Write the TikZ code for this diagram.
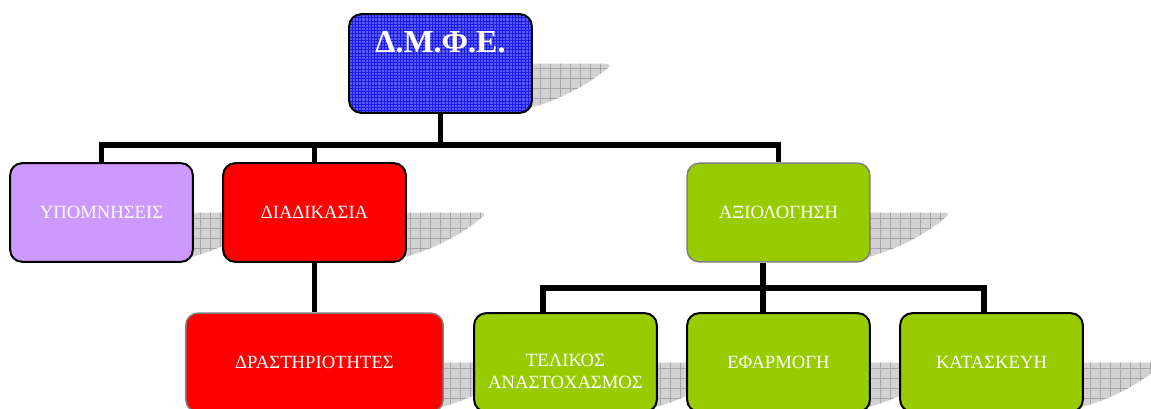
\documentclass[tikz,border=0pt]{standalone}
\usepackage{fontspec}
\setmainfont{Liberation Serif}
\usetikzlibrary{backgrounds,patterns.meta}
\definecolor{mov}{RGB}{204,153,255}
\definecolor{kokkino}{RGB}{255,0,0}
\definecolor{prasino}{RGB}{153,204,0}
\definecolor{mple}{RGB}{90,90,255}
\definecolor{mplef}{RGB}{25,25,225}
\definecolor{gkri}{RGB}{128,128,128}
\tikzset{
  kouti/.style={draw=black, line width=1.5pt, rounded corners=9pt, align=center, inner sep=0pt,
    minimum width=137pt, minimum height=74pt, text=white, font=\fontsize{14pt}{17pt}\selectfont},
  kgri/.style={kouti, draw=gkri, line width=1.1pt},
  korifi/.style={kouti, preaction={fill=mple}, pattern={Hatch[distance=2.4pt, angle=0, line width=0.35pt]},
    pattern color=mplef, font=\fontsize{24pt}{28pt}\selectfont\bfseries, text height=29pt, text depth=45pt},
  syn/.style={line width=4pt, black},
  skia/.style={preaction={fill=gray!35}, pattern={Hatch[distance=7.5pt, angle=0, line width=0.4pt]},
    pattern color=gray!70},
}
\newcommand{\skiakoutiou}[1]{%
  \begin{scope}[shift={(#1.east)}]
    \path[skia] (-8,0) -- (72,0) .. controls (78,0) and (79,2) .. (75,5)
      .. controls (55,22) and (25,38) .. (-8,46) -- cycle;
  \end{scope}}

\begin{document}
\begin{tikzpicture}[x=0.75pt, y=-0.75pt]
  \useasboundingbox (0,0) rectangle (1151,408);
  % koryfi
  \node[korifi] (dmfe) at (440.5,63.5) {Δ.Μ.Φ.Ε.};
  % proto epipedo
  \node[kouti, fill=mov] (ypo) at (101.5,212.5) {ΥΠΟΜΝΗΣΕΙΣ};
  \node[kouti, fill=kokkino] (dia) at (314.5,212.5) {ΔΙΑΔΙΚΑΣΙΑ};
  \node[kgri, fill=prasino] (axi) at (778.5,212.5) {ΑΞΙΟΛΟΓΗΣΗ};
  % deytero epipedo
  \node[kgri, fill=kokkino, minimum width=193pt] (dra) at (314.5,362.5) {ΔΡΑΣΤΗΡΙΟΤΗΤΕΣ};
  \node[kouti, fill=prasino] (tel) at (565.5,362.5) {\rule{0pt}{22.8pt}ΤΕΛΙΚΟΣ\\ΑΝΑΣΤΟΧΑΣΜΟΣ};
  \node[kouti, fill=prasino] (efa) at (778.5,362.5) {ΕΦΑΡΜΟΓΗ};
  \node[kouti, fill=prasino] (kat) at (991.5,362.5) {ΚΑΤΑΣΚΕΥΗ};
  % skies
  \begin{scope}[on background layer]
    \foreach \k in {dmfe,ypo,dia,axi,dra,tel,efa,kat} {\skiakoutiou{\k}}
  \end{scope}
  % grammes
  \coordinate (j1) at (440,145);
  \coordinate (j2) at (763,288);
  \draw[syn] (dmfe.south) -- (dmfe.south |- j1);
  \draw[syn] (ypo.north) |- (j1) -| (axi.north);
  \draw[syn] (dia.north) -- (dia.north |- j1);
  \draw[syn] (dia.south) -- (dra.north);
  \draw[syn] (axi.south -| j2) -- (j2);
  \draw[syn] ([xshift=-17pt]tel.north) |- (j2) -| ([xshift=-5.6pt]kat.north);
  \draw[syn] (efa.north -| j2) -- (j2);
\end{tikzpicture}
\end{document}
